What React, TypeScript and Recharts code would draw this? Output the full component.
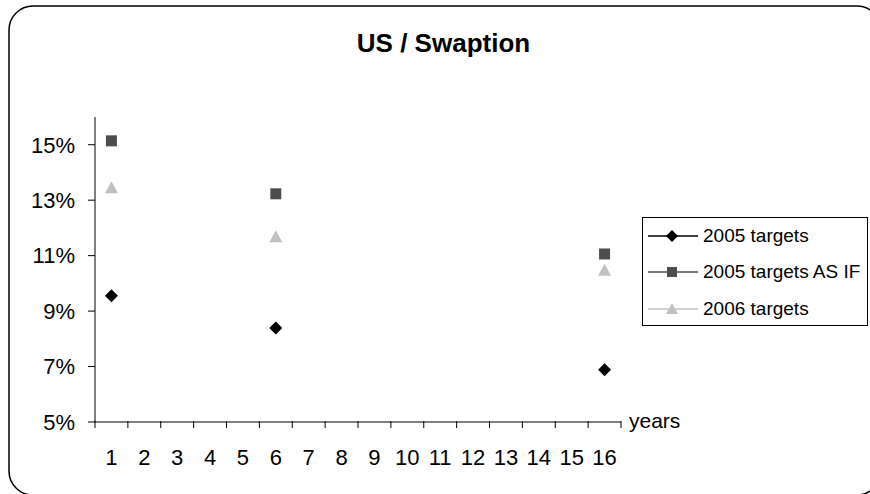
import React from "react";
import { ScatterChart, Scatter, XAxis, YAxis, Legend } from "recharts";

// category axis 1..16 (years); only 1, 6 and 16 carry values
const years = [1, 2, 3, 4, 5, 6, 7, 8, 9, 10, 11, 12, 13, 14, 15, 16];
const pointYears = [1, 6, 16];
const targets2005 = [9.55, 8.39, 6.88];
const targets2005AsIf = [15.14, 13.23, 11.06];
const targets2006 = [13.45, 11.68, 10.47];
const yTicks = [5, 7, 9, 11, 13, 15];

const FONT = "'Liberation Sans', Arial, sans-serif";
const W = 870;
const H = 494;
const MARGIN = { top: 117, right: 249, bottom: 0, left: 10 };
const Y_AXIS_W = 85;
const PLOT_W = W - MARGIN.left - Y_AXIS_W - MARGIN.right;
const BAND = PLOT_W / years.length;

const toPoints = (vals: number[]) => pointYears.map((x, i) => ({ x, y: vals[i] }));

type ShapeProps = { cx?: number; cy?: number; fill?: string; s?: number };

const Diamond = ({ cx = 0, cy = 0, fill = "#000", s = 6.5 }: ShapeProps) => (
  <polygon points={`${cx},${cy - s} ${cx + s},${cy} ${cx},${cy + s} ${cx - s},${cy}`} fill={fill} />
);

const Square = ({ cx = 0, cy = 0, fill = "#4d4d4d", s = 5.5 }: ShapeProps) => (
  <rect x={cx - s} y={cy - s} width={s * 2} height={s * 2} fill={fill} />
);

const Triangle = ({ cx = 0, cy = 0, fill = "#c0c0c0", s = 6.5 }: ShapeProps) => (
  <polygon points={`${cx},${cy - s} ${cx + s},${cy + s * 0.85} ${cx - s},${cy + s * 0.85}`} fill={fill} />
);

const series = [
  { name: "2005 targets", data: toPoints(targets2005), color: "#000000", Shape: Diamond },
  { name: "2005 targets AS IF", data: toPoints(targets2005AsIf), color: "#4d4d4d", Shape: Square },
  { name: "2006 targets", data: toPoints(targets2006), color: "#c0c0c0", Shape: Triangle },
];

// label at band centre, tick marks on band boundaries
const XTick = (props: any) => {
  const { x, y, payload, index } = props;
  const axisY = y - 28;
  return (
    <g>
      <line x1={x - BAND / 2} y1={axisY} x2={x - BAND / 2} y2={axisY + 7} stroke="#000" />
      {index === years.length - 1 && (
        <line x1={x + BAND / 2} y1={axisY} x2={x + BAND / 2} y2={axisY + 7} stroke="#000" />
      )}
      <text x={x} y={y} dy="0.71em" textAnchor="middle" fontSize={22} fontFamily={FONT} fill="#000">
        {payload.value}
      </text>
    </g>
  );
};

const LegendBox = () => (
  <div
    style={{
      width: 226,
      height: 109,
      boxSizing: "border-box",
      border: "1px solid #000",
      background: "#fff",
      fontFamily: FONT,
      fontSize: 19,
      color: "#000",
    }}
  >
    {series.map((s) => (
      <div key={s.name} style={{ height: 36.3, display: "flex", alignItems: "center" }}>
        <svg width={60} height={20} style={{ flex: "none" }}>
          <line x1={5} y1={10} x2={55} y2={10} stroke={s.color} strokeWidth={1.5} />
          <s.Shape cx={29} cy={10} fill={s.color} s={s.Shape === Square ? 5 : 6} />
        </svg>
        <span style={{ whiteSpace: "nowrap" }}>{s.name}</span>
      </div>
    ))}
  </div>
);

export default function App() {
  return (
    <div style={{ position: "absolute", left: 0, top: 0, width: W, height: H, background: "#fff", overflow: "hidden" }}>
      <ScatterChart width={W} height={H} margin={MARGIN}>
        <XAxis
          type="number"
          dataKey="x"
          domain={[0.5, 16.5]}
          ticks={years}
          interval={0}
          height={72}
          tickLine={false}
          tickSize={0}
          tickMargin={27}
          axisLine={{ stroke: "#000" }}
          tick={<XTick />}
          label={{
            content: ({ viewBox }: any) => (
              <text x={viewBox.x + viewBox.width + 8} y={viewBox.y + 6} fontSize={21} fontFamily={FONT} fill="#000">
                years
              </text>
            ),
          }}
        />
        <YAxis
          type="number"
          dataKey="y"
          domain={[5, 16]}
          ticks={yTicks}
          interval={0}
          width={Y_AXIS_W}
          tickSize={7}
          tickMargin={13}
          tickFormatter={(v: number) => `${v}%`}
          axisLine={{ stroke: "#000" }}
          tickLine={{ stroke: "#000" }}
          tick={{ fontSize: 22, fontFamily: FONT, fill: "#000" }}
        />
        {series.map((s) => (
          <Scatter
            key={s.name}
            name={s.name}
            data={s.data}
            fill={s.color}
            isAnimationActive={false}
            shape={(p: any) => <s.Shape cx={p.cx} cy={p.cy} fill={s.color} />}
          />
        ))}
        <Legend
          layout="vertical"
          align="center"
          verticalAlign="middle"
          wrapperStyle={{ left: 642, top: 217, width: 226 }}
          content={() => <LegendBox />}
        />
      </ScatterChart>
      <svg width={W} height={H} style={{ position: "absolute", left: 0, top: 0, pointerEvents: "none" }}>
        <rect x={9} y={6} width={872} height={489} rx={24} fill="none" stroke="#000" strokeWidth={1.5} />
        <text x={443.5} y={52} textAnchor="middle" fontSize={26} fontWeight="bold" fontFamily={FONT} fill="#000">
          US / Swaption
        </text>
      </svg>
    </div>
  );
}
